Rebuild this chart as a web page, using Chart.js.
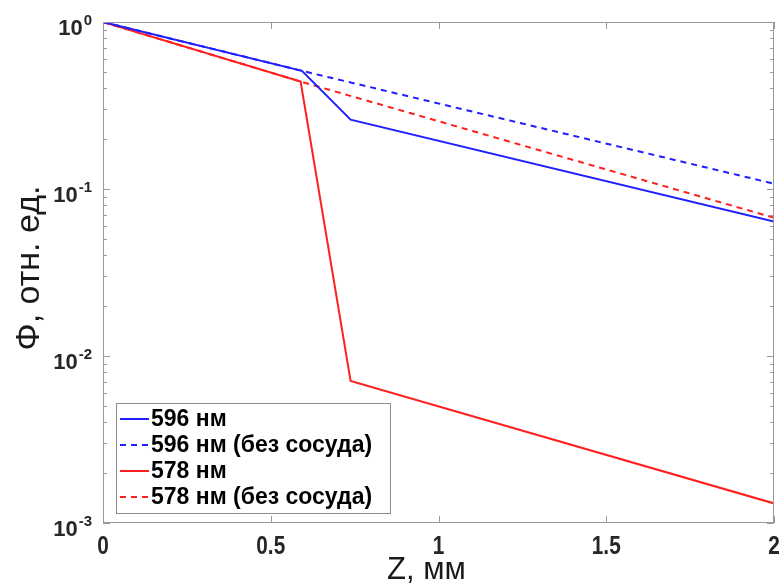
<!DOCTYPE html>
<html>
<head>
<meta charset="utf-8">
<script src="https://cdn.jsdelivr.net/npm/chart.js@4.4.1/dist/chart.umd.min.js"></script>
<style>
  body { margin: 0; background: #fff; }
  canvas { display: block; }
</style>
</head>
<body>
<canvas id="chart" width="782" height="584"></canvas>
<script>
// values
const zBlue = [0, 0.593, 0.738, 2];
const phiBlue = [1, 0.51, 0.26, 0.0638];
const zBlueFree = [0, 0.593, 2];
const phiBlueFree = [1, 0.51, 0.1076];
const zRed = [0, 0.589, 0.738, 2];
const phiRed = [1, 0.44, 0.0071, 0.00131];
const zRedFree = [0, 0.589, 2];
const phiRedFree = [1, 0.44, 0.0673];

const labels = ["596 нм", "596 нм (без сосуда)", "578 нм", "578 нм (без сосуда)"];
const xTicks = [0, 0.5, 1, 1.5, 2];
const xTickLabels = ["0", "0.5", "1", "1.5", "2"];
const yExponents = [0, -1, -2, -3];

const BLUE = "#1f1fff";
const RED = "#ff1f1f";
const AXIS = "#9a9a9a";

const toPoints = (xs, ys) => xs.map((x, i) => ({ x: x, y: ys[i] }));

// frame, inside ticks and tick labels (MATLAB style)
const axesPlugin = {
  id: "matlabAxes",
  afterDatasetsDraw(chart) {
    const ctx = chart.ctx;
    const a = chart.chartArea;
    const xs = chart.scales.x;
    const ys = chart.scales.y;
    ctx.save();
    ctx.strokeStyle = AXIS;
    ctx.lineWidth = 1;
    ctx.strokeRect(a.left + 0.5, a.top + 0.5, a.right - a.left - 1, a.bottom - a.top - 1);

    ctx.beginPath();
    xTicks.forEach((v) => {
      const px = Math.round(xs.getPixelForValue(v)) + 0.5;
      ctx.moveTo(px, a.bottom); ctx.lineTo(px, a.bottom - 7);
      ctx.moveTo(px, a.top); ctx.lineTo(px, a.top + 7);
    });
    yExponents.forEach((e) => {
      for (let m = 1; m <= 9; m++) {
        if (e === 0 && m > 1) continue;
        const v = m * Math.pow(10, e);
        const py = Math.round(ys.getPixelForValue(v)) + 0.5;
        const len = m === 1 ? 7 : 4;
        ctx.moveTo(a.left, py); ctx.lineTo(a.left + len, py);
        ctx.moveTo(a.right, py); ctx.lineTo(a.right - len, py);
      }
    });
    ctx.stroke();

    ctx.fillStyle = "#262626";
    // x tick labels
    ctx.font = 'bold 26px "Liberation Sans", Arial, sans-serif';
    ctx.textAlign = "center";
    ctx.textBaseline = "middle";
    xTicks.forEach((v, i) => {
      const px = xs.getPixelForValue(v);
      ctx.save();
      ctx.translate(px, a.bottom + 24);
      ctx.scale(0.8, 1);
      ctx.fillText(xTickLabels[i], 0, 0);
      ctx.restore();
    });
    // y tick labels 10^n
    ctx.textBaseline = "alphabetic";
    yExponents.forEach((e) => {
      const py = ys.getPixelForValue(Math.pow(10, e));
      const right = a.left - 11;
      ctx.font = 'bold 15px "Liberation Sans", Arial, sans-serif';
      const exp = String(e);
      const we = ctx.measureText(exp).width;
      ctx.textAlign = "left";
      ctx.fillText(exp, right - we, py + 3);
      ctx.font = 'bold 22px "Liberation Sans", Arial, sans-serif';
      ctx.textAlign = "right";
      ctx.fillText("10", right - we - 1, py + 13);
    });

    // axis titles
    ctx.fillStyle = "#1a1a1a";
    ctx.font = '31px "Liberation Sans", Arial, sans-serif';
    ctx.textAlign = "center";
    ctx.textBaseline = "middle";
    ctx.fillText("Z, мм", (a.left + a.right) / 2 - 12, 570);
    ctx.save();
    ctx.translate(30, 268);
    ctx.rotate(-Math.PI / 2);
    ctx.font = '34px "Liberation Sans", Arial, sans-serif';
    ctx.fillText("Φ, отн. ед.", 0, 0);
    ctx.restore();
    ctx.restore();
  }
};

// legend box inside the lower left corner of the plot
const innerLegend = {
  id: "innerLegend",
  afterDraw(chart) {
    const ctx = chart.ctx;
    const a = chart.chartArea;
    const left = a.left + 13, top = a.bottom - 120, w = 274, h = 110;
    ctx.save();
    ctx.fillStyle = "#fff";
    ctx.fillRect(left, top, w, h);
    ctx.strokeStyle = "#8c8c8c";
    ctx.lineWidth = 1;
    ctx.strokeRect(left + 0.5, top + 0.5, w, h);
    ctx.font = 'bold 23px "Liberation Sans", Arial, sans-serif';
    ctx.textBaseline = "middle";
    ctx.textAlign = "left";
    chart.data.datasets.forEach((ds, i) => {
      const y = top + 16 + i * 26;
      ctx.strokeStyle = ds.borderColor;
      ctx.lineWidth = ds.borderWidth;
      ctx.setLineDash(ds.borderDash || []);
      ctx.beginPath();
      ctx.moveTo(left + 4, y);
      ctx.lineTo(left + 33, y);
      ctx.stroke();
      ctx.setLineDash([]);
      ctx.fillStyle = "#000";
      ctx.fillText(ds.label, left + 35, y + 1);
    });
    ctx.restore();
  }
};

new Chart(document.getElementById("chart"), {
  type: "line",
  data: {
    datasets: [
      { label: labels[0], data: toPoints(zBlue, phiBlue), borderColor: BLUE, borderWidth: 2 },
      { label: labels[1], data: toPoints(zBlueFree, phiBlueFree), borderColor: BLUE, borderWidth: 2, borderDash: [6, 5] },
      { label: labels[2], data: toPoints(zRed, phiRed), borderColor: RED, borderWidth: 2 },
      { label: labels[3], data: toPoints(zRedFree, phiRedFree), borderColor: RED, borderWidth: 2, borderDash: [6, 5] }
    ]
  },
  options: {
    responsive: false,
    animation: false,
    devicePixelRatio: 1,
    layout: { padding: { left: 103, right: 8, top: 22, bottom: 61 } },
    elements: { point: { radius: 0 }, line: { tension: 0, fill: false } },
    plugins: { legend: { display: false }, tooltip: { enabled: false } },
    scales: {
      x: { type: "linear", min: 0, max: 2, display: false },
      y: { type: "logarithmic", min: 0.001, max: 1, display: false }
    }
  },
  plugins: [axesPlugin, innerLegend]
});
</script>
</body>
</html>
